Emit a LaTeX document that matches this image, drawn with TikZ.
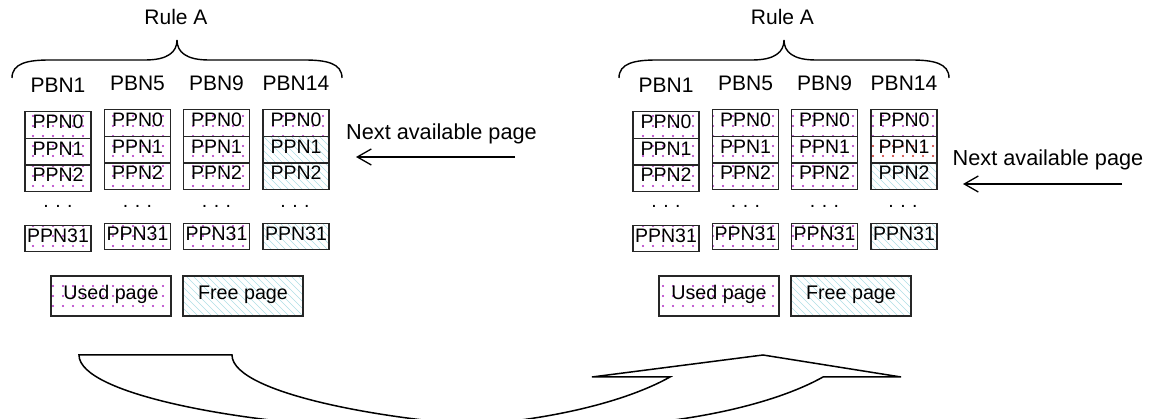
\documentclass[tikz,border=0pt]{standalone}
\usepackage{fontspec}
\setmainfont{Liberation Sans}
\usetikzlibrary{patterns,arrows.meta}
\pgfdeclarepatternformonly{udots}{\pgfpoint{-1pt}{-1pt}}{\pgfpoint{11pt}{11pt}}{\pgfpoint{10pt}{10pt}}{\pgfpathcircle{\pgfpoint{3pt}{3pt}}{1.1pt}\pgfusepath{fill}}
\pgfdeclarepatternformonly{fhatch}{\pgfpoint{-1pt}{-1pt}}{\pgfpoint{8pt}{8pt}}{\pgfpoint{7pt}{7pt}}{\pgfsetlinewidth{0.6pt}\pgfpathmoveto{\pgfpoint{0pt}{7pt}}\pgfpathlineto{\pgfpoint{7pt}{0pt}}\pgfusepath{stroke}}
\definecolor{dotc}{RGB}{175,40,195}
\definecolor{dotr}{RGB}{205,40,40}
\definecolor{hatc}{RGB}{175,222,228}
\newcommand\bigfnt{\fontsize{21}{25}\selectfont}
\newcommand\cellfnt{\fontsize{19.5}{23}\selectfont}
\newcommand\legfnt{\fontsize{19.7}{23}\selectfont}
\newcommand\nxtfnt{\fontsize{21.7}{26}\selectfont}
\tikzset{
  txt/.style={inner sep=0pt, text height=0.72em, text depth=0pt},
  pbn/.style={txt, font=\bigfnt},
  cell/.style={draw=black!85, line width=1.2pt, minimum width=66pt, minimum height=26.7pt, inner sep=0pt, text height=0.72em, text depth=0pt, font=\cellfnt},
  used/.style={pattern=udots, pattern color=dotc},
  usedred/.style={pattern=udots, pattern color=dotr},
  free/.style={pattern=fhatch, pattern color=hatc},
  legend/.style={draw=black!85, line width=1.5pt, minimum width=120pt, minimum height=40pt, inner sep=0pt, text height=0.72em, text depth=0pt, font=\legfnt},
  dotsn/.style={inner sep=0pt, anchor=base, font=\cellfnt},
  nexttxt/.style={txt, font=\nxtfnt},
  nextarrow/.style={draw=black, line width=1.3pt, -{Straight Barb[length=14pt,width=16pt,line width=1.3pt]}},
  bracepath/.style={draw=black, line width=1.4pt},
  bigarrow/.style={draw=black, line width=1.5pt, line join=miter, fill=white}
}
\begin{document}
\begin{tikzpicture}[x=1pt,y=-1pt]
\useasboundingbox (0,0) rectangle (1151,419);

% ---------------- left panel ----------------
\node[pbn] (ruleL) at (176,21) {Rule A};
\draw[bracepath] (12,78) .. controls (12,63) and (28,60) .. (50,60) -- (145,60) .. controls (168,60) and (177,52) .. (177,40) .. controls (177,52) and (186,60) .. (209,60) -- (304,60) .. controls (326,60) and (342,63) .. (342,78);

\foreach \c/\x/\dy/\lab in {1/58/2/PBN1,2/137.5/0/PBN5,3/216.5/0/PBN9}{
  \node[pbn] (Lpbn\c) at (\x,87+\dy) {\lab};
  \node[cell,used] (L\c-0) at (\x,123+\dy) {PPN0};
  \node[cell,used] (L\c-1) at (\x,149.7+\dy) {PPN1};
  \node[cell,used] (L\c-2) at (\x,176.4+\dy) {PPN2};
  \node[dotsn] (L\c-d) at (\x,207.5) {.\,\,.\,\,.};
  \node[cell,used] (L\c-31) at (\x,236.5+\dy) {PPN31};
}
\node[pbn] (Lpbn4) at (296,87) {PBN14};
\node[cell,used] (L4-0) at (296,123) {PPN0};
\node[cell,free] (L4-1) at (296,149.7) {PPN1};
\node[cell,free] (L4-2) at (296,176.4) {PPN2};
\node[dotsn] (L4-d) at (295,207.5) {.\,\,.\,\,.};
\node[cell,free] (L4-31) at (296,236.5) {PPN31};

\node[legend,used] (Lused) at (111,296) {Used page};
\node[legend,free] (Lfree) at (243,296) {Free page};

\node[nexttxt] (Lnext) at (441.5,135.5) {Next available page};
\coordinate (LaS) at (515,157);
\coordinate (LaE) at (356,157);
\draw[nextarrow] (LaS) -- (LaE);

% ---------------- right panel ----------------
\node[pbn] (ruleR) at (782.5,21) {Rule A};
\draw[bracepath] (619,78) .. controls (619,63) and (635,60) .. (657,60) -- (752,60) .. controls (775,60) and (784,52) .. (784,40) .. controls (784,52) and (793,60) .. (816,60) -- (911,60) .. controls (933,60) and (949,63) .. (949,78);

\foreach \c/\x/\dy/\lab in {1/666/2/PBN1,2/745.5/0/PBN5,3/824.5/0/PBN9}{
  \node[pbn] (Rpbn\c) at (\x,87+\dy) {\lab};
  \node[cell,used] (R\c-0) at (\x,123+\dy) {PPN0};
  \node[cell,used] (R\c-1) at (\x,149.7+\dy) {PPN1};
  \node[cell,used] (R\c-2) at (\x,176.4+\dy) {PPN2};
  \node[dotsn] (R\c-d) at (\x,207.5) {.\,\,.\,\,.};
  \node[cell,used] (R\c-31) at (\x,236.5+\dy) {PPN31};
}
\node[pbn] (Rpbn4) at (904,87) {PBN14};
\node[cell,used] (R4-0) at (904,123) {PPN0};
\node[cell,usedred] (R4-1) at (904,149.7) {PPN1};
\node[cell,free] (R4-2) at (904,176.4) {PPN2};
\node[dotsn] (R4-d) at (903,207.5) {.\,\,.\,\,.};
\node[cell,free] (R4-31) at (904,236.5) {PPN31};

\node[legend,used] (Rused) at (719,296) {Used page};
\node[legend,free] (Rfree) at (851,296) {Free page};

\node[nexttxt] (Rnext) at (1048,161.5) {Next available page};
\coordinate (RaS) at (1122,184);
\coordinate (RaE) at (963,184);
\draw[nextarrow] (RaS) -- (RaE);

% ---------------- curved arrow ----------------
\begin{scope}
\clip (0,0) rectangle (1151,419);
\draw[bigarrow] (79,355) -- (232,355) .. controls (232,395) and (403,425) .. (533,428) .. controls (673,430) and (773,405) .. (823,377) -- (901,377) -- (763,355) -- (592,377) -- (670,377) .. controls (620,405) and (520,430) .. (380,428) .. controls (250,425) and (79,395) .. (79,355) -- cycle;
\end{scope}
\end{tikzpicture}
\end{document}
